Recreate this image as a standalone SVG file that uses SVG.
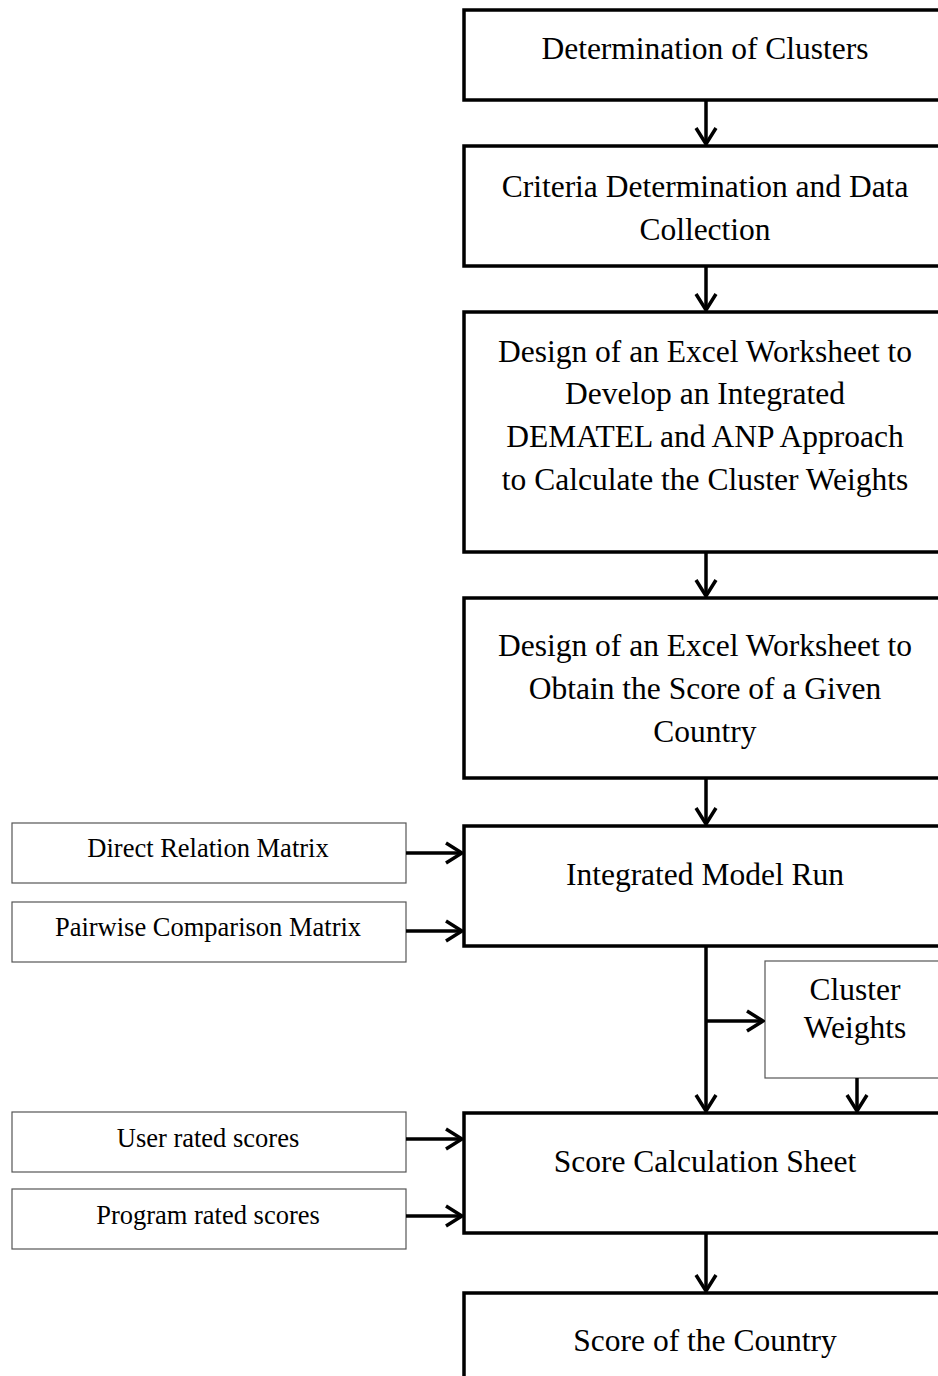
<svg xmlns="http://www.w3.org/2000/svg" width="938" height="1376" viewBox="0 0 938 1376">
<defs>
<style>
.main{fill:#fff;stroke:#000;stroke-width:3.5}
.side{fill:#fff;stroke:#555;stroke-width:1.2}
.t{font-family:"Liberation Serif","Times New Roman",serif;font-size:31.5px;fill:#000;text-anchor:middle}
.s{font-family:"Liberation Serif","Times New Roman",serif;font-size:26.5px;fill:#000;text-anchor:middle}
.c{fill:none;stroke:#000;stroke-width:3.5}
</style>
<marker id="ah" viewBox="0 0 20 24" refX="18" refY="12" markerWidth="20" markerHeight="24" markerUnits="userSpaceOnUse" orient="auto">
<path d="M2,2 L18,12 L2,22" fill="none" stroke="#000" stroke-width="3.5"/>
</marker>
</defs>
<rect width="938" height="1376" fill="#fff"/>
<g id="n1"><rect class="main" x="464" y="10" width="490" height="90"/><text class="t" x="705" y="59">Determination of Clusters</text></g>
<g id="n2"><rect class="main" x="464" y="146" width="490" height="120"/><text class="t" x="705" y="197">Criteria Determination and Data</text><text class="t" x="705" y="240">Collection</text></g>
<g id="n3"><rect class="main" x="464" y="312" width="490" height="240"/><text class="t" x="705" y="362">Design of an Excel Worksheet to</text><text class="t" x="705" y="404">Develop an Integrated</text><text class="t" x="705" y="447">DEMATEL and ANP Approach</text><text class="t" x="705" y="490">to Calculate the Cluster Weights</text></g>
<g id="n4"><rect class="main" x="464" y="598" width="490" height="180"/><text class="t" x="705" y="656">Design of an Excel Worksheet to</text><text class="t" x="705" y="699">Obtain the Score of a Given</text><text class="t" x="705" y="742">Country</text></g>
<g id="n5"><rect class="main" x="464" y="826" width="490" height="120"/><text class="t" x="705" y="885">Integrated Model Run</text></g>
<g id="n6"><rect class="main" x="464" y="1113" width="490" height="120"/><text class="t" x="705" y="1172">Score Calculation Sheet</text></g>
<g id="n7"><rect class="main" x="464" y="1293" width="490" height="120"/><text class="t" x="705" y="1351">Score of the Country</text></g>
<g id="d1"><rect class="side" x="12" y="823" width="394" height="60"/><text class="s" x="208" y="857">Direct Relation Matrix</text></g>
<g id="d2"><rect class="side" x="12" y="902" width="394" height="60"/><text class="s" x="208" y="936">Pairwise Comparison Matrix</text></g>
<g id="d3"><rect class="side" x="12" y="1112" width="394" height="60"/><text class="s" x="208" y="1147">User rated scores</text></g>
<g id="d4"><rect class="side" x="12" y="1189" width="394" height="60"/><text class="s" x="208" y="1224">Program rated scores</text></g>
<g id="cw"><rect class="side" x="765" y="961" width="200" height="117"/><text class="t" x="855" y="1000">Cluster</text><text class="t" x="855" y="1038">Weights</text></g>
<g id="connectors">
<line class="c" x1="706" y1="100" x2="706" y2="144" marker-end="url(#ah)"/>
<line class="c" x1="706" y1="266" x2="706" y2="310" marker-end="url(#ah)"/>
<line class="c" x1="706" y1="552" x2="706" y2="596" marker-end="url(#ah)"/>
<line class="c" x1="706" y1="778" x2="706" y2="824" marker-end="url(#ah)"/>
<line class="c" x1="406" y1="853" x2="462" y2="853" marker-end="url(#ah)"/>
<line class="c" x1="406" y1="931" x2="462" y2="931" marker-end="url(#ah)"/>
<line class="c" x1="706" y1="946" x2="706" y2="1111" marker-end="url(#ah)"/>
<line class="c" x1="706" y1="1021" x2="763" y2="1021" marker-end="url(#ah)"/>
<line class="c" x1="857" y1="1078" x2="857" y2="1111" marker-end="url(#ah)"/>
<line class="c" x1="406" y1="1139" x2="462" y2="1139" marker-end="url(#ah)"/>
<line class="c" x1="406" y1="1216" x2="462" y2="1216" marker-end="url(#ah)"/>
<line class="c" x1="706" y1="1233" x2="706" y2="1291" marker-end="url(#ah)"/>
</g>
</svg>
